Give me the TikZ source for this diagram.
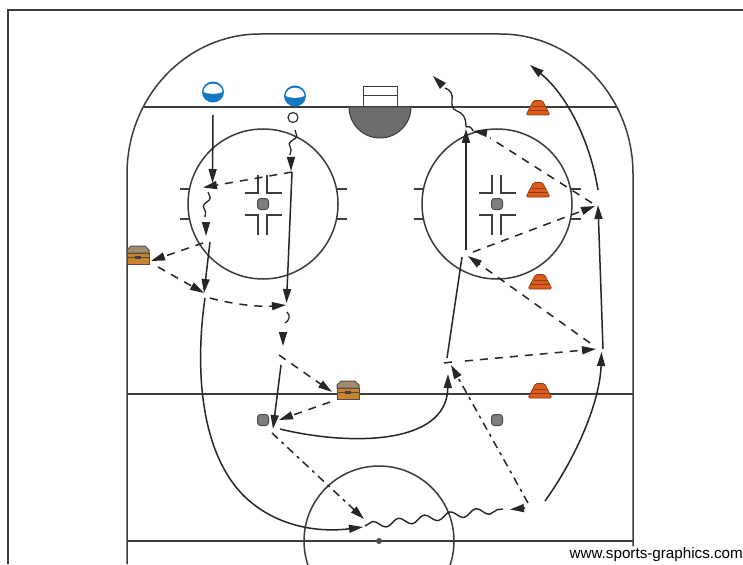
\documentclass[tikz,border=0pt]{standalone}
\usepackage{fontspec}
\setmainfont{Liberation Sans}
\usetikzlibrary{arrows.meta,decorations.pathmorphing}
\definecolor{inkline}{HTML}{3C3C3C}
\definecolor{coneorange}{HTML}{DB5A1C}
\definecolor{conedark}{HTML}{8E3C12}
\definecolor{playerblue}{HTML}{1478C4}
\definecolor{chestbody}{HTML}{C8842C}
\definecolor{chestlid}{HTML}{A58A6C}
\definecolor{creasegrey}{HTML}{6C6C6C}
\definecolor{puckgrey}{HTML}{7E7E7E}
\tikzset{
  x=1pt,y=-1pt,
  rinkline/.style={draw=inkline,line width=1.5pt},
  thinline/.style={draw=inkline,line width=1.3pt},
  run/.style={draw=black!85,line width=1.5pt,-{Triangle[length=14pt,width=8pt]}},
  runplain/.style={draw=black!85,line width=1.5pt},
  pass/.style={draw=black!85,line width=1.5pt,dash pattern=on 8pt off 7pt,-{Triangle[length=14pt,width=8pt]}},
  passplain/.style={draw=black!85,line width=1.5pt,dash pattern=on 8pt off 7pt},
  dashdot/.style={draw=black!85,line width=1.5pt,dash pattern=on 8pt off 5pt on 3pt off 5pt,-{Triangle[length=14pt,width=8pt]}},
  skate/.style={draw=black!85,line width=1.4pt,decorate,decoration={snake,amplitude=3.6pt,segment length=26pt}},
  wiggle/.style={draw=black!85,line width=1.3pt,decorate,decoration={snake,amplitude=3pt,segment length=18pt}},
  puck/.style={draw=black!70,fill=puckgrey,rounded corners=3pt,minimum size=11pt,inner sep=0pt,line width=1pt},
  helmet/.pic={
    \fill[playerblue] (0,0) ellipse[x radius=11pt,y radius=10.5pt];
    \fill[white] (-9.5,0) .. controls (-9,-11) and (9,-11) .. (9.5,0) .. controls (4,2.5) and (-4,2.5) .. cycle;
  },
  cone/.pic={
    \fill[coneorange,draw=conedark,line width=.7pt,rounded corners=1.5pt] (-12,7) -- (-4.5,-7.5) -- (4.5,-7.5) -- (12,7) -- cycle;
    \draw[conedark,line width=.7pt] (-6.5,-2) -- (6.5,-2) (-9,2.5) -- (9,2.5);
  },
  chest/.pic={
    \fill[chestbody,draw=black!70,line width=1pt] (-11,-2) rectangle (11,9);
    \fill[chestlid,draw=black!70,line width=1pt] (-11,-2) -- (-11,-5) -- (-7,-9) -- (7,-9) -- (11,-5) -- (11,-2) -- cycle;
    \draw[black!70,line width=1pt] (-11,2) -- (-3,2);
    \draw[black!70,line width=1pt] (3,2) -- (11,2);
    \fill[black!75] (-3,0.5) rectangle (3,3.5);
  }
}
\begin{document}
\begin{tikzpicture}
\useasboundingbox (0,0) rectangle (743,564);
\clip (0,0) rectangle (743,564);
\fill[white] (0,0) rectangle (743,564);
% frame
\draw[inkline,line width=1.7pt] (8,564) -- (8,10) -- (743,10);
% rink
\draw[rinkline] (127,564) -- (127,174) .. controls (127,96.7) and (186.5,34) .. (260,34)
  -- (500,34) .. controls (573.5,34) and (633,96.7) .. (633,174) -- (633,546);
\draw[thinline] (143.5,107) -- (617,107);
\draw[thinline] (127,394) -- (633,394);
\draw[thinline] (127,541) -- (633,541);
% crease and net
\fill[creasegrey,draw=inkline,line width=1pt] (349,107) arc[start angle=180,end angle=0,radius=31pt,y radius=-31pt] -- cycle;
\draw[draw=inkline,line width=1pt] (363,107) -- (363,87) -- (397,87) -- (397,107) (363,96) -- (397,96);
% circles
\node[circle,draw=inkline,line width=1.5pt,minimum size=150pt,inner sep=0pt] (leftcircle) at (263,204) {};
\node[circle,draw=inkline,line width=1.5pt,minimum size=150pt,inner sep=0pt] (rightcircle) at (497,204) {};
\node[circle,draw=inkline,line width=1.5pt,minimum size=150pt,inner sep=0pt] (centrecircle) at (379,541) {};
\fill[black!70] (379,541) circle[radius=3pt];
% hash and face-off marks
\foreach \cx in {263,497}{
  \draw[thinline] (\cx-83,189) -- (\cx-74,189) (\cx-83,219) -- (\cx-74,219)
                  (\cx+74,189) -- (\cx+84,189) (\cx+74,219) -- (\cx+84,219);
  \draw[thinline] (\cx-18,193) -- (\cx-5,193) -- (\cx-5,175) (\cx+4,175) -- (\cx+4,193) -- (\cx+19,193)
                  (\cx-18,215) -- (\cx-5,215) -- (\cx-5,235) (\cx+4,235) -- (\cx+4,215) -- (\cx+19,215);
}
% pucks
\node[puck] (puckA) at (263,204) {};
\node[puck] (puckB) at (497,204) {};
\node[puck] (puckC) at (263,420) {};
\node[puck] (puckD) at (497,420) {};
% players, cones, chests
\pic at (213,92) {helmet};
\pic at (295,96) {helmet};
\node[circle,draw=black!80,fill=white,line width=1.2pt,minimum size=10pt,inner sep=0pt] (ring) at (293,117.5) {};
\pic at (538,108) {cone};
\pic at (538,190) {cone};
\pic at (540,282) {cone};
\pic at (540,391) {cone};
\pic at (138,255) {chest};
\pic at (348,390) {chest};
% waypoints
\coordinate (a1) at (213,115);   \coordinate (a2) at (212.5,183);
\coordinate (a3) at (292,172);   \coordinate (a4) at (203,187.5);
\coordinate (a5) at (208,192);   \coordinate (a6) at (205,217);
\coordinate (a7) at (206,222);   \coordinate (a8) at (206,236);
\coordinate (a9) at (203,243);   \coordinate (a10) at (151,261);
\coordinate (a11) at (158,267);  \coordinate (a12) at (204,293);
\coordinate (a13) at (210,242);
\coordinate (b1) at (210,298);   \coordinate (b2) at (286,305);
\coordinate (b3) at (292,172);   \coordinate (b4) at (286.5,303);
\coordinate (b5) at (295,130);   \coordinate (b6) at (290,155);
\coordinate (b7) at (291,158);   \coordinate (b8) at (291,171);
\coordinate (c1) at (287,312);   \coordinate (c2) at (285,323);
\coordinate (c3) at (283,332);   \coordinate (c4) at (283,346);
\coordinate (c5) at (279,355);   \coordinate (c6) at (332,392);
\coordinate (c7) at (330,402);   \coordinate (c8) at (279,420);
\coordinate (c9) at (281,365);   \coordinate (c10) at (273,429);
\coordinate (d1) at (280,429);   \coordinate (d2) at (448,374);
\coordinate (d3) at (447,358);   \coordinate (d4) at (462,257);
\coordinate (d5) at (466,250);   \coordinate (d6) at (466,129);
\coordinate (e1) at (466,127);   \coordinate (e2) at (453,108);
\coordinate (e3) at (450,90);    \coordinate (e4) at (445,88);
\coordinate (e5) at (442,85);    \coordinate (e6) at (433,76);
\coordinate (f1) at (490,138);   \coordinate (f2) at (592,203);
\coordinate (f3) at (487,133);   \coordinate (f4) at (473,131);
\coordinate (f5) at (473,252);   \coordinate (f6) at (595,206);
\coordinate (g1) at (590,343);   \coordinate (g2) at (468,256);
\coordinate (g3) at (465,361);   \coordinate (g4) at (596,349);
\coordinate (g5) at (444,363);   \coordinate (g6) at (452,362);
\coordinate (g7) at (528,503);   \coordinate (g8) at (451,365);
\coordinate (h1) at (603,349);   \coordinate (h2) at (598,205);
\coordinate (h3) at (598,190);   \coordinate (h4) at (530,65);
\coordinate (h5) at (545,501);   \coordinate (h6) at (601.5,352);
\coordinate (i1) at (205,298);   \coordinate (i2) at (245,497);
\coordinate (i3) at (363,527);
\coordinate (j1) at (272,433);   \coordinate (j2) at (364,519);
\coordinate (k1) at (365,526);   \coordinate (k2) at (503,509);
\coordinate (k3) at (525,508);   \coordinate (k4) at (510,509.5);
% connectors: left player
\draw[run] (a1) -- (a2);
\draw[pass] (a3) -- (a4);
\draw[wiggle] (a5) -- (a6);
\draw[run] (a7) -- (a8);
\draw[pass] (a9) -- (a10);
\draw[pass] (a11) -- (a12);
\draw[run] (a13) -- (a12);
\draw[pass] (b1) .. controls (235,305) and (262,307) .. (b2);
% right player
\draw[run] (b3) -- (b4);
\draw[wiggle] (b5) -- (b6);
\draw[run] (b7) -- (b8);
\draw[draw=black!85,line width=1.3pt] (c1) .. controls (291,316) and (289,321) .. (c2);
\draw[run] (c3) -- (c4);
\draw[pass] (c5) -- (c6);
\draw[pass] (c7) -- (c8);
\draw[run] (c9) -- (c10);
% across the middle
\draw[run] (d1) .. controls (345,445) and (447,447) .. (d2);
\draw[runplain] (d3) -- (d4);
\draw[run] (d5) -- (d6);
\draw[draw=black!85,line width=1.3pt] (e1) .. controls (466,116) and (462,113) .. (457,111)
  .. controls (451,109) and (452,104) .. (452,100) .. controls (453,95) and (451,90) .. (e4);
\draw[run] (e5) -- (e6);
\draw[passplain] (f2) -- (f1);
\draw[draw=black!85,line width=1.3pt] (e1) .. controls (470,125) and (473,130) .. (f4);
\draw[run,line width=1pt] (f3) -- (f4);
\draw[pass] (f5) -- (f6);
\draw[pass] (g1) -- (g2);
\draw[pass] (g3) -- (g4);
\draw[runplain] (g5) -- (g6);
\draw[dashdot] (g7) -- (g8);
\draw[run] (h1) -- (h2);
\draw[run] (h3) .. controls (590,140) and (566,94) .. (h4);
\draw[run] (h5) .. controls (578,455) and (600,400) .. (h6);
\draw[runplain] (i1) .. controls (196,360) and (197,450) .. (i2);
\draw[run] (i2) .. controls (280,530) and (325,532) .. (i3);
\draw[dashdot] (j1) -- (j2);
\draw[skate] (k1) -- (k2);
\draw[run] (k3) -- (k4);
% credit
\node[anchor=east,inner xsep=0pt,inner ysep=1pt,font=\fontsize{15.2pt}{17pt}\selectfont] (credit) at (743,554.5) {www.sports-graphics.com};
\end{tikzpicture}
\end{document}
